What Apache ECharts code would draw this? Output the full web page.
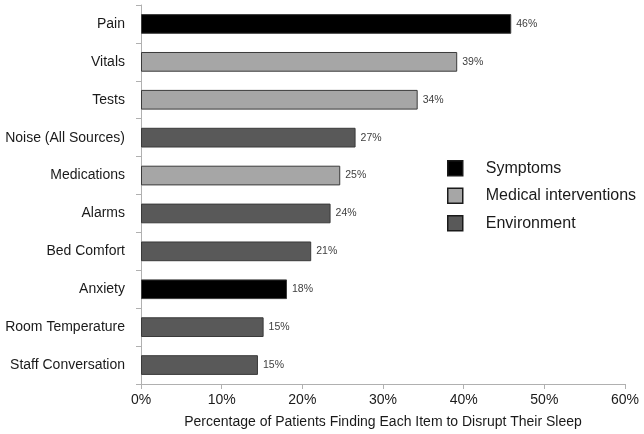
<!DOCTYPE html>
<html>
<head>
<meta charset="utf-8">
<script src="https://cdn.jsdelivr.net/npm/echarts@6/dist/echarts.min.js"></script>
<style>html,body{margin:0;padding:0;background:#fff}#c{width:644px;height:434px}</style>
</head>
<body>
<div id="c"></div>
<script>
const categories = ["Pain","Vitals","Tests","Noise (All Sources)","Medications","Alarms","Bed Comfort","Anxiety","Room Temperature","Staff Conversation"];
const groups = ["Symptoms","Medical interventions","Environment"];
const values = [45.9, 39.2, 34.3, 26.6, 24.7, 23.5, 21.1, 18.1, 15.2, 14.5];
const groupOf = ["Symptoms","Medical interventions","Medical interventions","Environment","Medical interventions","Environment","Environment","Symptoms","Environment","Environment"];
const groupColors = ["#000000","#a6a6a6","#595959"];
const xTicks = [0,10,20,30,40,50,60];

const chart = echarts.init(document.getElementById('c'), null, {renderer:'canvas'});
const series = groups.map((g, gi) => ({
  name: g,
  type: 'bar',
  stack: 'all',
  barWidth: '52%',
  data: values.map((v, i) => groupOf[i] === g ? v : '-'),
  itemStyle: { color: groupColors[gi], borderColor: '#3a3a3a', borderWidth: 1 },
  label: {
    show: true, position: 'right', distance: 5,
    formatter: p => Math.round(p.value) + '%',
    fontFamily: 'Liberation Sans, Arial, sans-serif', fontSize: 10.5, color: '#404040'
  },
  emphasis: { disabled: true }
}));
chart.setOption({
  animation: false,
  backgroundColor: '#ffffff',
  grid: { left: 141, right: 19, top: 5, bottom: 49, containLabel: false },
  legend: {
    orient: 'vertical', left: 447, top: 160, padding: 0,
    itemWidth: 15, itemHeight: 15, itemGap: 11,
    icon: 'rect',
    data: groups,
    itemStyle: { borderColor: '#1a1a1a', borderWidth: 1.5 },
    textStyle: { fontFamily: 'Liberation Sans, Arial, sans-serif', fontSize: 16, color: '#1a1a1a', lineHeight: 15, padding: [0,0,0,18] }
  },
  xAxis: {
    type: 'value', min: xTicks[0], max: xTicks[xTicks.length-1], interval: 10,
    axisLine: { show: true, lineStyle: { color: '#b0b0b0', width: 1 } },
    axisTick: { show: true, length: 5, lineStyle: { color: '#b0b0b0' } },
    splitLine: { show: false },
    axisLabel: { formatter: '{value}%', fontFamily: 'Liberation Sans, Arial, sans-serif', fontSize: 14, color: '#1a1a1a', margin: 9 },
    name: 'Percentage of Patients Finding Each Item to Disrupt Their Sleep',
    nameLocation: 'middle', nameGap: 31,
    nameTextStyle: { fontFamily: 'Liberation Sans, Arial, sans-serif', fontSize: 14, color: '#1a1a1a' }
  },
  yAxis: {
    type: 'category', data: categories, inverse: true,
    axisLine: { show: true, lineStyle: { color: '#b0b0b0', width: 1 } },
    axisTick: { show: true, length: 5, alignWithLabel: false, lineStyle: { color: '#b0b0b0' } },
    axisLabel: { fontFamily: 'Liberation Sans, Arial, sans-serif', fontSize: 14, color: '#1a1a1a', margin: 16 }
  },
  series: series
});
</script>
</body>
</html>
